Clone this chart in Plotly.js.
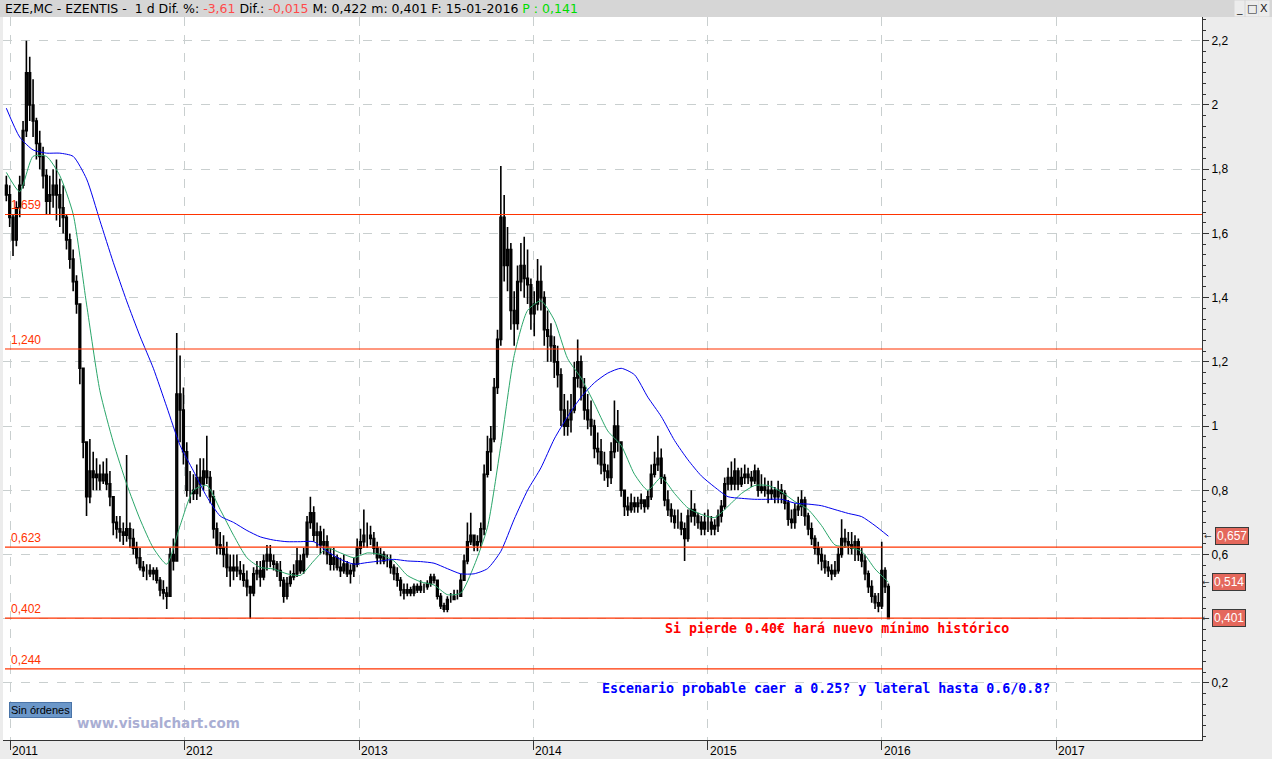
<!DOCTYPE html>
<html><head><meta charset="utf-8">
<script src="https://cdn.plot.ly/plotly-3.0.1.min.js"></script>
<style>html,body{margin:0;padding:0;background:#ececec;overflow:hidden}#chart{width:1272px;height:759px}</style>
</head><body><div id="chart"></div>
<script>
// Weekly bars of EZE.MC, first week ending 2010-12-24
const firstWeek = '2010-12-24';
const openP = [
1.75,1.72,1.65,1.58,1.68,1.75,1.92,2.10,2.00,1.95,
1.88,1.84,1.78,1.70,1.72,1.75,1.72,1.68,1.65,1.58,
1.52,1.45,1.38,1.18,0.95,0.78,0.86,0.84,0.85,0.83,
0.85,0.82,0.78,0.70,0.68,0.67,0.66,0.68,0.65,0.62,
0.59,0.56,0.55,0.55,0.54,0.55,0.52,0.49,0.48,0.47,
0.60,0.58,1.10,1.05,0.92,0.80,0.80,0.79,0.84,0.82,
0.86,0.84,0.78,0.68,0.63,0.62,0.60,0.56,0.55,0.56,
0.55,0.54,0.52,0.50,0.48,0.54,0.55,0.53,0.58,0.60,
0.58,0.57,0.55,0.52,0.47,0.51,0.53,0.54,0.58,0.55,
0.60,0.70,0.73,0.66,0.67,0.63,0.64,0.60,0.57,0.59,
0.56,0.55,0.57,0.54,0.55,0.57,0.62,0.64,0.66,0.66,
0.65,0.62,0.59,0.60,0.58,0.58,0.56,0.54,0.52,0.49,
0.48,0.49,0.48,0.50,0.49,0.50,0.50,0.51,0.53,0.52,
0.47,0.44,0.43,0.46,0.46,0.47,0.47,0.52,0.58,0.64,
0.66,0.63,0.64,0.68,0.85,0.92,0.96,1.12,1.27,1.65,
1.50,1.55,1.36,1.32,1.45,1.50,1.46,1.44,1.35,1.38,
1.45,1.40,1.30,1.28,1.25,1.20,1.16,1.05,1.00,1.02,
1.05,1.15,1.20,1.12,1.05,1.02,1.00,0.93,0.92,0.88,
0.86,0.84,0.92,1.00,0.95,0.80,0.75,0.74,0.76,0.75,
0.76,0.77,0.75,0.78,0.85,0.88,0.90,0.84,0.77,0.74,
0.72,0.70,0.70,0.68,0.65,0.72,0.74,0.72,0.70,0.68,
0.70,0.70,0.68,0.69,0.72,0.75,0.82,0.84,0.82,0.86,
0.82,0.84,0.85,0.84,0.83,0.86,0.80,0.81,0.80,0.79,
0.80,0.78,0.80,0.79,0.76,0.71,0.70,0.74,0.75,0.77,
0.72,0.68,0.65,0.62,0.60,0.58,0.56,0.55,0.54,0.55,
0.60,0.65,0.64,0.63,0.62,0.64,0.60,0.58,0.54,0.50,
0.47,0.45,0.44,0.55,0.50];
const highP = [
1.78,1.75,1.66,1.70,1.78,1.95,2.20,2.15,2.08,1.96,
1.92,1.87,1.80,1.78,1.80,1.83,1.77,1.75,1.66,1.60,
1.55,1.47,1.38,1.18,0.95,0.96,0.92,0.90,0.88,0.89,
0.90,0.86,0.78,0.72,0.72,0.70,0.91,0.70,0.68,0.64,
0.62,0.58,0.57,0.57,0.56,0.56,0.53,0.52,0.50,0.62,
0.65,1.29,1.22,1.12,0.95,0.86,0.85,0.88,0.90,0.90,
0.97,0.86,0.80,0.70,0.67,0.66,0.64,0.60,0.60,0.60,
0.58,0.57,0.55,0.50,0.56,0.58,0.58,0.60,0.63,0.63,
0.60,0.58,0.58,0.53,0.53,0.55,0.57,0.62,0.60,0.62,
0.72,0.78,0.75,0.70,0.69,0.68,0.66,0.62,0.62,0.60,
0.59,0.60,0.58,0.57,0.59,0.65,0.68,0.74,0.70,0.69,
0.67,0.64,0.62,0.61,0.60,0.60,0.57,0.56,0.53,0.51,
0.51,0.50,0.51,0.51,0.52,0.51,0.52,0.54,0.54,0.52,
0.48,0.45,0.47,0.48,0.49,0.49,0.54,0.60,0.70,0.73,
0.66,0.66,0.70,0.88,0.97,1.00,1.15,1.30,1.81,1.72,
1.62,1.57,1.42,1.50,1.57,1.59,1.55,1.46,1.42,1.52,
1.50,1.42,1.36,1.32,1.28,1.25,1.18,1.10,1.08,1.10,
1.20,1.27,1.22,1.15,1.10,1.08,1.02,0.98,0.96,0.92,
0.88,0.95,1.08,1.05,0.95,0.80,0.78,0.79,0.78,0.78,
0.79,0.77,0.80,0.88,0.92,0.97,0.93,0.85,0.80,0.76,
0.74,0.74,0.73,0.70,0.74,0.80,0.76,0.73,0.72,0.73,
0.74,0.72,0.71,0.74,0.77,0.84,0.87,0.89,0.90,0.87,
0.87,0.88,0.87,0.86,0.88,0.87,0.85,0.84,0.83,0.83,
0.81,0.83,0.82,0.80,0.77,0.74,0.76,0.78,0.80,0.78,
0.73,0.70,0.66,0.64,0.62,0.60,0.58,0.57,0.58,0.62,
0.71,0.68,0.67,0.67,0.66,0.65,0.62,0.60,0.55,0.52,
0.48,0.48,0.64,0.56,0.51];
const lowP = [
1.70,1.62,1.53,1.56,1.65,1.74,1.90,1.95,1.90,1.83,
1.80,1.74,1.66,1.66,1.68,1.64,1.62,1.60,1.55,1.49,
1.42,1.35,1.13,0.90,0.72,0.76,0.80,0.80,0.80,0.82,
0.80,0.75,0.66,0.65,0.64,0.63,0.64,0.62,0.60,0.57,
0.55,0.53,0.52,0.53,0.52,0.51,0.47,0.46,0.43,0.47,
0.55,0.58,0.95,0.88,0.78,0.76,0.77,0.77,0.78,0.80,
0.82,0.76,0.65,0.60,0.60,0.56,0.53,0.50,0.52,0.53,
0.52,0.50,0.47,0.40,0.47,0.52,0.50,0.52,0.55,0.56,
0.55,0.53,0.50,0.45,0.46,0.50,0.52,0.53,0.54,0.54,
0.59,0.68,0.64,0.62,0.60,0.60,0.57,0.55,0.55,0.55,
0.53,0.54,0.53,0.51,0.53,0.56,0.60,0.62,0.62,0.63,
0.60,0.57,0.57,0.57,0.56,0.54,0.52,0.50,0.47,0.46,
0.47,0.47,0.47,0.48,0.48,0.48,0.49,0.50,0.51,0.46,
0.43,0.42,0.42,0.45,0.46,0.46,0.47,0.52,0.57,0.63,
0.61,0.61,0.62,0.66,0.84,0.86,0.95,1.10,1.25,1.45,
1.42,1.30,1.25,1.30,1.42,1.40,1.38,1.30,1.28,1.36,
1.36,1.25,1.20,1.20,1.15,1.12,1.00,0.97,0.97,0.98,
1.04,1.12,1.08,1.02,0.99,0.97,0.90,0.88,0.85,0.83,
0.81,0.82,0.90,0.92,0.78,0.72,0.72,0.73,0.73,0.73,
0.74,0.73,0.74,0.77,0.84,0.86,0.82,0.75,0.72,0.70,
0.68,0.68,0.66,0.58,0.64,0.70,0.69,0.68,0.66,0.66,
0.67,0.66,0.66,0.67,0.70,0.74,0.80,0.80,0.80,0.80,
0.81,0.82,0.82,0.81,0.82,0.78,0.79,0.78,0.76,0.77,
0.76,0.76,0.76,0.74,0.69,0.68,0.68,0.72,0.72,0.69,
0.66,0.63,0.60,0.57,0.55,0.54,0.53,0.52,0.53,0.54,
0.59,0.62,0.60,0.60,0.58,0.58,0.56,0.52,0.48,0.45,
0.43,0.42,0.43,0.48,0.40];
const closeP = [
1.72,1.65,1.58,1.68,1.75,1.92,2.10,2.00,1.95,1.88,
1.84,1.78,1.70,1.72,1.75,1.72,1.68,1.65,1.58,1.52,
1.45,1.38,1.18,0.95,0.78,0.86,0.84,0.85,0.83,0.85,
0.82,0.78,0.70,0.68,0.67,0.66,0.68,0.65,0.62,0.59,
0.56,0.55,0.55,0.54,0.55,0.52,0.49,0.48,0.47,0.60,
0.58,1.10,1.05,0.92,0.80,0.80,0.79,0.84,0.82,0.86,
0.84,0.78,0.68,0.63,0.62,0.60,0.56,0.55,0.56,0.55,
0.54,0.52,0.50,0.48,0.54,0.55,0.53,0.58,0.60,0.58,
0.57,0.55,0.52,0.47,0.51,0.53,0.54,0.58,0.55,0.60,
0.70,0.73,0.66,0.67,0.63,0.64,0.60,0.57,0.59,0.56,
0.55,0.57,0.54,0.55,0.57,0.62,0.64,0.66,0.66,0.65,
0.62,0.59,0.60,0.58,0.58,0.56,0.54,0.52,0.49,0.48,
0.49,0.48,0.50,0.49,0.50,0.50,0.51,0.53,0.52,0.47,
0.44,0.43,0.46,0.46,0.47,0.47,0.52,0.58,0.64,0.66,
0.63,0.64,0.68,0.85,0.92,0.96,1.12,1.27,1.65,1.50,
1.55,1.36,1.32,1.45,1.50,1.46,1.44,1.35,1.38,1.45,
1.40,1.30,1.28,1.25,1.20,1.16,1.05,1.00,1.02,1.05,
1.15,1.20,1.12,1.05,1.02,1.00,0.93,0.92,0.88,0.86,
0.84,0.92,1.00,0.95,0.80,0.75,0.74,0.76,0.75,0.76,
0.77,0.75,0.78,0.85,0.88,0.90,0.84,0.77,0.74,0.72,
0.70,0.70,0.68,0.65,0.72,0.74,0.72,0.70,0.68,0.70,
0.70,0.68,0.69,0.72,0.75,0.82,0.84,0.82,0.86,0.82,
0.84,0.85,0.84,0.83,0.86,0.80,0.81,0.80,0.79,0.80,
0.78,0.80,0.79,0.76,0.71,0.70,0.74,0.75,0.77,0.72,
0.68,0.65,0.62,0.60,0.58,0.56,0.55,0.54,0.55,0.60,
0.65,0.64,0.63,0.62,0.64,0.60,0.58,0.54,0.50,0.47,
0.45,0.44,0.55,0.50,0.401];

// Moving averages read every 4 weeks
const maSlowBlue = [1.99,1.90,1.86,1.85,1.85,1.84,1.77,1.64,1.51,1.39,
1.28,1.18,1.06,0.94,0.86,0.78,0.72,0.70,0.675,0.655,
0.645,0.64,0.64,0.64,0.61,0.585,0.57,0.575,0.58,0.585,
0.58,0.578,0.573,0.556,0.54,0.54,0.556,0.61,0.71,0.80,
0.87,0.96,1.03,1.09,1.135,1.165,1.18,1.16,1.09,1.03,
0.955,0.895,0.845,0.81,0.78,0.775,0.772,0.772,0.772,0.76,
0.757,0.752,0.74,0.728,0.718,0.69,0.657];
const maFastGreen = [1.79,1.73,1.84,1.84,1.78,1.66,1.38,1.11,0.95,0.82,
0.71,0.62,0.57,0.69,0.80,0.815,0.74,0.66,0.59,0.56,
0.555,0.54,0.535,0.58,0.62,0.605,0.59,0.605,0.60,0.58,
0.535,0.515,0.505,0.475,0.48,0.565,0.685,0.94,1.22,1.36,
1.39,1.33,1.21,1.15,1.07,0.985,0.94,0.85,0.80,0.84,
0.79,0.745,0.725,0.715,0.75,0.79,0.815,0.815,0.795,0.765,
0.74,0.69,0.63,0.623,0.61,0.555,0.514];

const yearLabels = ['2011','2012','2013','2014','2015','2016','2017'];
const yearDates = ['2011-01-01','2012-01-01','2013-01-01','2014-01-01','2015-01-01','2016-01-01','2017-01-01'];
const priceTicks = [0.2, 0.4, 0.6, 0.8, 1, 1.2, 1.4, 1.6, 1.8, 2, 2.2];
const priceTickText = ['0,2', '', '0,6', '0,8', '1', '1,2', '1,4', '1,6', '1,8', '2', '2,2']; // 0,4 hidden under the last-price tag
const levelValues = [1.659, 1.240, 0.623, 0.402, 0.244];
const levelLabels = ['1,659','1,240','0,623','0,402','0,244'];
const tagValues = [0.657, 0.514, 0.401];
const tagLabels = ['0,657','0,514','0,401'];
const noteRed = 'Si pierde 0.40€ hará nuevo mínimo histórico';
const noteBlue = 'Escenario probable caer a 0.25? y lateral hasta 0.6/0.8?';

// build date table
const t0 = Date.parse(firstWeek + 'T00:00:00Z');
const weekDates = closeP.map((_, i) => new Date(t0 + i * 7 * 86400000).toISOString().slice(0, 10));
const maDates = weekDates.filter((_, i) => i % 4 === 0);

const W = 1272, H = 759, ML = 3, MR = 70, MT = 17, MB = 19;
const PW = W - ML - MR, PH = H - MT - MB;
const px = v => (v - ML) / PW;           // pixel x -> paper
const py = v => (H - MB - v) / PH;       // pixel y -> paper

const traces = [
  {type: 'candlestick', x: weekDates, open: openP, high: highP, low: lowP, close: closeP,
   increasing: {line: {color: '#000', width: 1.6}, fillcolor: '#ffffff'},
   decreasing: {line: {color: '#000', width: 1.6}, fillcolor: '#000000'},
   whiskerwidth: 0, hoverinfo: 'skip', showlegend: false},
  {type: 'scatter', mode: 'lines', x: maDates, y: maFastGreen, line: {color: '#2aa66a', width: 1, shape: 'spline', smoothing: 0.6}, hoverinfo: 'skip', showlegend: false},
  {type: 'scatter', mode: 'lines', x: maDates, y: maSlowBlue, line: {color: '#0000ee', width: 1, shape: 'spline', smoothing: 0.6}, hoverinfo: 'skip', showlegend: false}
];

const shapes = [
  {type: 'rect', xref: 'paper', yref: 'paper', x0: px(0), x1: px(W), y0: py(MT), y1: py(0), fillcolor: '#d6d6d6', line: {width: 0}, layer: 'below'}
];
levelValues.forEach(v => shapes.push({type: 'line', xref: 'paper', yref: 'y', x0: px(5), x1: 1, y0: v, y1: v, line: {color: '#ff3300', width: 1.2}, layer: 'above'}));

const annotations = [];
annotations.push({xref: 'paper', yref: 'paper', x: px(3), y: py(8.5), xanchor: 'left', yanchor: 'middle', showarrow: false,
  font: {family: 'DejaVu Sans, sans-serif', size: 12.5, color: '#000'},
  text: 'EZE,MC - EZENTIS - &nbsp;1 d Dif. %: <span style="color:#ff4a4a">-3,61</span> Dif.: <span style="color:#ff4a4a">-0,015</span> M: 0,422 m: 0,401 F: 15-01-2016 <span style="color:#00dd00">P : 0,141</span>'});
['_', '□', 'X'].forEach((s, k) => annotations.push({xref: 'paper', yref: 'paper', x: px(1239 + k * 12.5), y: py(8), xanchor: 'center', yanchor: 'middle', showarrow: false,
  text: s, font: {family: 'DejaVu Sans, sans-serif', size: 11, color: '#222'}, bgcolor: '#ececec'}));
levelValues.forEach((v, k) => annotations.push({xref: 'paper', yref: 'y', x: px(9), y: v, xanchor: 'left', yanchor: 'bottom', yshift: 0, showarrow: false,
  text: levelLabels[k], font: {family: 'Liberation Sans, Arial, sans-serif', size: 12, color: '#ff3300'}}));
yearLabels.forEach((s, k) => annotations.push({xref: 'x', yref: 'paper', x: yearDates[k], y: 0, xanchor: 'left', yanchor: 'top', xshift: 0, yshift: -2, showarrow: false,
  text: s, font: {family: 'Liberation Sans Narrow, Liberation Sans, Arial, sans-serif', size: 12, color: '#000'}}));
tagValues.forEach((v, k) => {
  annotations.push({xref: 'paper', yref: 'y', x: 1, y: v, xanchor: 'left', yanchor: 'middle', xshift: k === 0 ? 1 : -1, showarrow: false, borderpad: 0,
    text: '←', font: {family: 'DejaVu Sans, sans-serif', size: 9, color: '#333'}});
  annotations.push({xref: 'paper', yref: 'y', x: 1, y: v, xanchor: 'left', yanchor: 'middle', xshift: k === 0 ? 13 : 10, showarrow: false,
    text: tagLabels[k], font: {family: 'Liberation Sans, Arial, sans-serif', size: 12, color: '#ffffff'},
    bgcolor: '#e4685c', bordercolor: '#3a3a3a', borderwidth: 1, borderpad: 1});
});
annotations.push({xref: 'paper', yref: 'paper', x: px(837), y: py(628), xanchor: 'center', yanchor: 'middle', showarrow: false,
  text: '<b>' + noteRed + '</b>', font: {family: 'DejaVu Sans Mono, monospace', size: 13.3, color: '#ff0000'}});
annotations.push({xref: 'paper', yref: 'paper', x: px(826), y: py(688), xanchor: 'center', yanchor: 'middle', showarrow: false,
  text: '<b>' + noteBlue + '</b>', font: {family: 'DejaVu Sans Mono, monospace', size: 13.3, color: '#0000ff'}});
annotations.push({xref: 'paper', yref: 'paper', x: px(9), y: py(709.5), xanchor: 'left', yanchor: 'middle', showarrow: false,
  text: 'Sin órdenes', font: {family: 'Liberation Sans, Arial, sans-serif', size: 11, color: '#000'},
  bgcolor: '#6b97c9', bordercolor: '#4a74a8', borderwidth: 1, borderpad: 1});
annotations.push({xref: 'paper', yref: 'paper', x: px(75), y: py(723), xanchor: 'left', yanchor: 'middle', showarrow: false,
  text: '<b>www.visualchart.com</b>', font: {family: 'DejaVu Sans, Verdana, sans-serif', size: 13.5, color: '#a9aed3'}});

const layout = {
  width: W, height: H,
  margin: {l: ML, r: MR, t: MT, b: MB, pad: 0},
  paper_bgcolor: '#ececec', plot_bgcolor: '#ffffff',
  separators: ', ',
  showlegend: false,
  hovermode: false,
  xaxis: {type: 'date', range: ['2010-12-17', '2017-11-02'], rangeslider: {visible: false},
    tickvals: yearDates, showticklabels: false, ticks: 'outside', ticklen: 9, tickcolor: '#333', tickwidth: 1,
    showgrid: true, gridcolor: '#c9cfcf', griddash: 'dash', gridwidth: 1,
    showline: true, linecolor: '#333', linewidth: 1, zeroline: false, fixedrange: true},
  yaxis: {side: 'right', range: [0.0224, 2.274], tickmode: 'array', tickvals: priceTicks, ticktext: priceTickText,
    ticks: 'outside', ticklen: 6, tickcolor: '#333',
    showgrid: true, gridcolor: '#c9cfcf', griddash: 'dash', gridwidth: 1,
    showline: true, linecolor: '#333', linewidth: 1, zeroline: false, fixedrange: true,
    tickfont: {family: 'Liberation Sans, Arial, sans-serif', size: 12, color: '#000'},
    minor: {dtick: 0.2 / 6, tick0: 0, ticks: 'outside', ticklen: 3, tickcolor: '#333', showgrid: false}},
  shapes: shapes,
  annotations: annotations
};

Plotly.newPlot('chart', traces, layout, {displayModeBar: false, staticPlot: true});
</script></body></html>
